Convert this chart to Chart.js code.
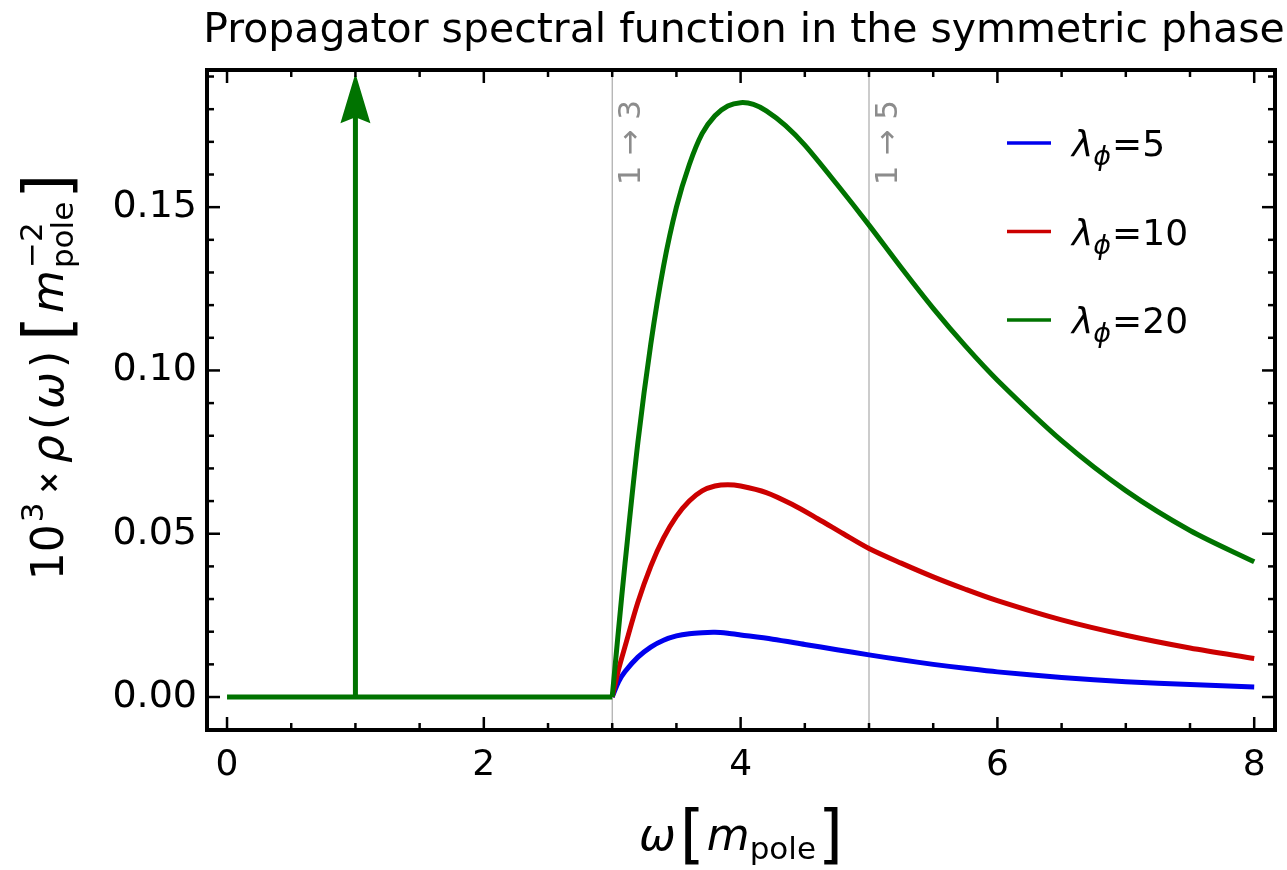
<!DOCTYPE html>
<html>
<head>
<meta charset="utf-8">
<script src="https://cdn.jsdelivr.net/npm/chart.js@4.4.1/dist/chart.umd.min.js"></script>
<style>
  html, body { margin: 0; padding: 0; background: #fff; }
  #wrap { width: 1287px; height: 870px; }
</style>
</head>
<body>
<div id="wrap"><canvas id="c" width="1287" height="870"></canvas></div>
<script>
// values
const lambdas = [5, 10, 20];
const wBlue   = [3, 3.05, 3.1, 3.2, 3.3, 3.4, 3.5, 3.6, 3.7, 3.8, 3.9, 4.0, 4.25, 4.5, 4.75, 5.0, 5.25, 5.5, 5.75, 6.0, 6.5, 7.0, 7.5, 8.0];
const rhoBlue = [0, 0.0047, 0.0078, 0.0122, 0.0153, 0.0174, 0.0187, 0.0194, 0.0197, 0.0198, 0.0195, 0.0190, 0.0177, 0.0161, 0.0145, 0.0129, 0.0114, 0.0100, 0.0088, 0.0077, 0.0060, 0.0047, 0.0038, 0.0031];
const wRed    = [3, 3.05, 3.1, 3.2, 3.3, 3.4, 3.5, 3.6, 3.7, 3.8, 3.9, 4.0, 4.2, 4.4, 4.6, 4.8, 5.0, 5.25, 5.5, 5.75, 6.0, 6.5, 7.0, 7.5, 8.0];
const rhoRed  = [0, 0.0085, 0.0155, 0.029, 0.040, 0.0487, 0.0553, 0.0600, 0.0631, 0.0646, 0.0650, 0.0646, 0.0626, 0.0590, 0.0546, 0.0500, 0.0455, 0.0410, 0.0368, 0.0330, 0.0295, 0.0236, 0.0189, 0.0150, 0.0118];
const wGreen  = [3, 3.05, 3.1, 3.2, 3.3, 3.4, 3.5, 3.6, 3.7, 3.8, 3.9, 4.0, 4.1, 4.2, 4.35, 4.5, 4.75, 5.0, 5.25, 5.5, 5.75, 6.0, 6.5, 7.0, 7.5, 8.0];
const rhoGreen= [0, 0.021, 0.041, 0.078, 0.108, 0.132, 0.150, 0.163, 0.1725, 0.178, 0.181, 0.182, 0.1815, 0.1795, 0.175, 0.169, 0.157, 0.1445, 0.1315, 0.119, 0.1075, 0.097, 0.0785, 0.0632, 0.0510, 0.0414];
const wFlat   = [0, 3];
const rhoFlat = [0, 0];
const wPole = 1;          // delta peak position
const poleTop = 0.191;    // arrow reaches the top of the frame
const thresholds = [3, 5];
const thresholdLabels = ['1 \u2192 3', '1 \u2192 5'];
const xTicks = [0, 2, 4, 6, 8];
const yTicks = [0, 0.05, 0.10, 0.15];

const xMin = -0.156, xMax = 8.162, yMin = -0.0101, yMax = 0.192;
const FAM = '"DejaVu Sans", sans-serif';
const BLUE = '#0000ee', RED = '#cc0000', GREEN = '#007300', GREY = '#999999';

const pts = (xs, ys) => xs.map((x, i) => ({ x: x, y: ys[i] }));

const curve = (label, xs, ys, color, order) => ({
  label: label, data: pts(xs, ys), borderColor: color, borderWidth: 5,
  pointRadius: 0, tension: 0.3, order: order, fill: false
});

const datasets = [
  curve('\u03bb=5', wBlue, rhoBlue, BLUE, 2),
  curve('\u03bb=10', wRed, rhoRed, RED, 1),
  curve('\u03bb=20', wGreen, rhoGreen, GREEN, 0),
  { label: 'flat', data: pts(wFlat, rhoFlat), borderColor: GREEN, borderWidth: 5, pointRadius: 0, order: 0 },
  { label: 'pole', data: [{ x: wPole, y: 0 }, { x: wPole, y: poleTop - 0.012 }], borderColor: GREEN, borderWidth: 5, pointRadius: 0, order: 0 }
];
thresholds.forEach(t => datasets.push({
  label: 'th' + t, data: [{ x: t, y: yMin }, { x: t, y: yMax }], borderColor: GREY, borderWidth: 1, pointRadius: 0, order: 5
}));

const font = (s, it, b) => (it ? 'italic ' : '') + (b ? 'bold ' : '') + s + 'px ' + FAM;

// rich text: runs of {t, s, it, dy} or {sup, sub, s, supDy, subDy}
function runsWidth(ctx, runs) {
  let w = 0;
  runs.forEach(r => {
    if (r.sup !== undefined) {
      ctx.font = font(r.s); const a = ctx.measureText(r.sup).width;
      const b = ctx.measureText(r.sub).width; w += Math.max(a, b) + (r.gap || 0);
    } else { ctx.font = font(r.s, r.it, r.b); w += ctx.measureText(r.t).width + (r.gap || 0); }
  });
  return w;
}
function drawRuns(ctx, runs, x, y) {
  runs.forEach(r => {
    if (r.sup !== undefined) {
      ctx.font = font(r.s);
      ctx.fillText(r.sup, x, y + r.supDy);
      ctx.fillText(r.sub, x, y + r.subDy);
      x += Math.max(ctx.measureText(r.sup).width, ctx.measureText(r.sub).width) + (r.gap || 0);
    } else {
      ctx.font = font(r.s, r.it, r.b);
      ctx.fillText(r.t, x, y + (r.dy || 0));
      x += ctx.measureText(r.t).width + (r.gap || 0);
    }
  });
}

const decor = {
  id: 'decor',
  afterDatasetsDraw(chart) {
    const ctx = chart.ctx, xs = chart.scales.x, ys = chart.scales.y;
    const { left, right, top, bottom } = chart.chartArea;
    ctx.save();
    // arrow head of the pole
    const px = xs.getPixelForValue(wPole), py = ys.getPixelForValue(poleTop);
    ctx.fillStyle = GREEN;
    ctx.beginPath();
    ctx.moveTo(px, py); ctx.lineTo(px + 15, py + 50); ctx.lineTo(px, py + 44); ctx.lineTo(px - 15, py + 50);
    ctx.closePath(); ctx.fill();

    // threshold labels
    ctx.fillStyle = '#8c8c8c';
    ctx.font = font(31);
    ctx.textAlign = 'right'; ctx.textBaseline = 'alphabetic';
    thresholds.forEach((t, i) => {
      const tx = xs.getPixelForValue(t);
      ctx.save();
      ctx.translate(tx + 28, top + 30);
      ctx.rotate(-Math.PI / 2);
      ctx.fillText(thresholdLabels[i], 0, 0);
      ctx.restore();
    });
    ctx.textAlign = 'left';

    // frame with inward ticks
    ctx.strokeStyle = '#000';
    ctx.lineWidth = 4;
    ctx.strokeRect(left, top, right - left, bottom - top);
    ctx.lineWidth = 2.5;
    const seg = (a, b, c, d) => { ctx.beginPath(); ctx.moveTo(a, b); ctx.lineTo(c, d); ctx.stroke(); };
    for (let k = 0; k <= 16; k++) {
      const v = k * 0.5, p = xs.getPixelForValue(v), L = k % 4 === 0 ? 13 : 7;
      seg(p, bottom, p, bottom - L); seg(p, top, p, top + L);
    }
    for (let k = 0; k <= 19; k++) {
      const v = k * 0.01, p = ys.getPixelForValue(v), L = k % 5 === 0 ? 13 : 7;
      seg(left, p, left + L, p); seg(right, p, right - L, p);
    }

    // legend
    const colors = [BLUE, RED, GREEN];
    lambdas.forEach((l, i) => {
      const ly = top + 73 + i * 88.5;
      ctx.strokeStyle = colors[i]; ctx.lineWidth = 3.5;
      seg(1007, ly, 1051, ly);
      ctx.fillStyle = '#000';
      drawRuns(ctx, [
        { t: '\u03bb', s: 36, it: true },
        { t: '\u03d5', s: 27, it: true, dy: 9, gap: 1 },
        { t: '=' + l, s: 36 }
      ], 1072, ly + 13);
    });
    ctx.restore();
  },
  afterDraw(chart) {
    const ctx = chart.ctx;
    const { left, right } = chart.chartArea;
    ctx.save();
    ctx.fillStyle = '#000';
    ctx.textBaseline = 'alphabetic';
    ctx.textAlign = 'center';
    ctx.font = font(41);
    ctx.fillText('Propagator spectral function in the symmetric phase', 744, 42);
    ctx.textAlign = 'left';

    // x axis title
    const xr = [
      { t: '\u03c9', s: 44, it: true, gap: 4 },
      { t: '[', s: 64, dy: 6, gap: 2 },
      { t: 'm', s: 44, it: true },
      { t: 'pole', s: 31, dy: 9, gap: 2 },
      { t: ']', s: 64, dy: 6 }
    ];
    const cx = (left + right) / 2;
    drawRuns(ctx, xr, cx - runsWidth(ctx, xr) / 2, 850);

    // y axis title
    const yr = [
      { t: '10', s: 44, gap: 2 },
      { t: '3', s: 31, dy: -20, gap: 8 },
      { t: '\u00d7', s: 28, b: true, dy: -5, gap: 8 },
      { t: '\u03c1', s: 44, it: true, gap: 5 },
      { t: '(', s: 44, gap: 4 },
      { t: '\u03c9', s: 44, it: true, gap: 4 },
      { t: ')', s: 44, gap: 10 },
      { t: '[', s: 64, dy: 6, gap: 3 },
      { t: 'm', s: 44, it: true, gap: 2 },
      { sup: '\u22122', sub: 'pole', s: 31, supDy: -21, subDy: 10, gap: 3 },
      { t: ']', s: 64, dy: 6 }
    ];
    ctx.translate(48, 377);
    ctx.rotate(-Math.PI / 2);
    drawRuns(ctx, yr, -runsWidth(ctx, yr) / 2, 15);
    ctx.restore();
  }
};

new Chart(document.getElementById('c'), {
  type: 'line',
  data: { datasets: datasets },
  options: {
    responsive: false,
    animation: false,
    events: [],
    layout: { padding: { top: 70, right: 12, left: 0, bottom: 0 } },
    plugins: { legend: { display: false }, title: { display: false }, tooltip: { enabled: false } },
    scales: {
      x: {
        type: 'linear', min: xMin, max: xMax,
        grid: { display: false, drawTicks: false }, border: { display: false },
        ticks: { font: { family: FAM, size: 36 }, color: '#000', padding: 14, autoSkip: false, maxRotation: 0,
                 callback: v => String(v) },
        afterBuildTicks: s => { s.ticks = xTicks.map(v => ({ value: v })); },
        afterFit: s => { s.height = 140; }
      },
      y: {
        type: 'linear', min: yMin, max: yMax,
        grid: { display: false, drawTicks: false }, border: { display: false },
        ticks: { font: { family: FAM, size: 38 }, color: '#000', padding: 10, autoSkip: false,
                 callback: v => v.toFixed(2) },
        afterBuildTicks: s => { s.ticks = yTicks.map(v => ({ value: v })); },
        afterFit: s => { s.width = 207; }
      }
    }
  },
  plugins: [decor]
});
</script>
</body>
</html>
